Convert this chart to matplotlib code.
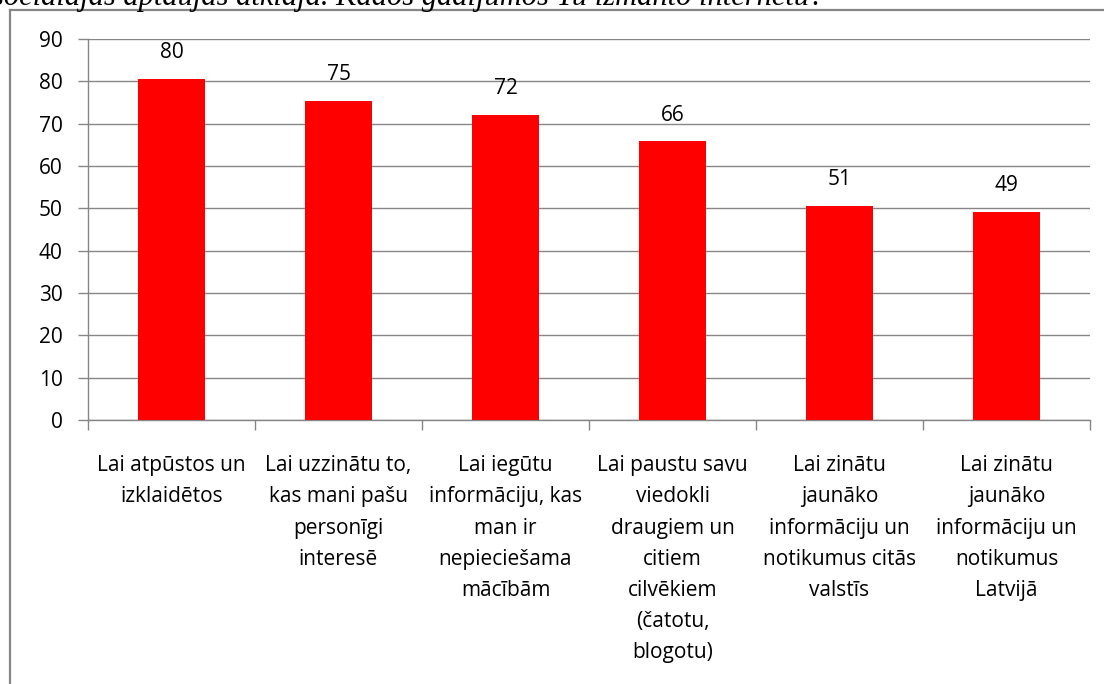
import matplotlib
matplotlib.use("Agg")
import matplotlib.pyplot as plt
from matplotlib.lines import Line2D

categories = [
    "Lai atpūstos un\nizklaidētos",
    "Lai uzzinātu to,\nkas mani pašu\npersonīgi\ninteresē",
    "Lai iegūtu\ninformāciju, kas\nman ir\nnepieciešama\nmācībām",
    "Lai paustu savu\nviedokli\ndraugiem un\ncitiem\ncilvēkiem\n(čatotu,\nblogotu)",
    "Lai zinātu\njaunāko\ninformāciju un\nnotikumus citās\nvalstīs",
    "Lai zinātu\njaunāko\ninformāciju un\nnotikumus\nLatvijā",
]
values = [80.6, 75.3, 72.0, 65.8, 50.6, 49.1]
value_labels = ["80", "75", "72", "66", "51", "49"]
yticks = [0, 10, 20, 30, 40, 50, 60, 70, 80, 90]
header_text = "sociālajās aptaujās atklāja. Kādos gadījumos Tu izmanto internetu?"

W, H = 1104, 684
fig = plt.figure(figsize=(W / 100, H / 100), dpi=100)
fig.patch.set_facecolor("white")

GRAY = "#868686"
FONT = ["Open Sans", "DejaVu Sans"]

# outer frame (cut at right and bottom)
fig.add_artist(Line2D([10 / W, 10 / W], [0, 1 - 10 / H], transform=fig.transFigure,
                      color=GRAY, lw=1.6))
fig.add_artist(Line2D([10 / W, 1.0], [1 - 10 / H, 1 - 10 / H], transform=fig.transFigure,
                      color=GRAY, lw=1.6))

# header text cut off at top
fig.text(-8 / W, 1 - 4.5 / H, header_text, family="Liberation Serif", style="italic",
         fontsize=22, va="baseline", ha="left", color="black")

left, right = 88 / W, 1090 / W
bottom, top = (H - 420) / H, (H - 39) / H
ax = fig.add_axes([left, bottom, right - left, top - bottom])

x = list(range(len(categories)))
ax.bar(x, values, width=0.4, color="#FF0000", zorder=3)
for xi, v, lab in zip(x, values, value_labels):
    ax.annotate(lab, (xi, v), xytext=(0, 19), textcoords="offset points",
                ha="center", va="center", fontsize=15, family=FONT, color="black")

ax.set_xlim(-0.5, len(categories) - 0.5)
ax.set_ylim(0, 90)
ax.set_yticks(yticks)
ax.grid(axis="y", color=GRAY, lw=1.0, zorder=0)
ax.set_axisbelow(True)

for s in ["top", "right"]:
    ax.spines[s].set_visible(False)
for s in ["left", "bottom"]:
    ax.spines[s].set_color(GRAY)
    ax.spines[s].set_linewidth(1.0)

ax.tick_params(axis="y", direction="out", length=7.2, width=1.0, color=GRAY,
               pad=11, labelsize=15)
for t in ax.get_yticklabels():
    t.set_family(FONT)

ax.set_xticks(x)
ax.set_xticklabels(categories, fontsize=15, family=FONT, linespacing=1.63, va="top")
ax.tick_params(axis="x", which="major", length=0, pad=25.5)
ax.set_xticks([i - 0.5 for i in range(len(categories) + 1)], minor=True)
ax.tick_params(axis="x", which="minor", direction="out", length=7.2, width=1.0, color=GRAY)

fig.savefig("out.png", dpi=100)
